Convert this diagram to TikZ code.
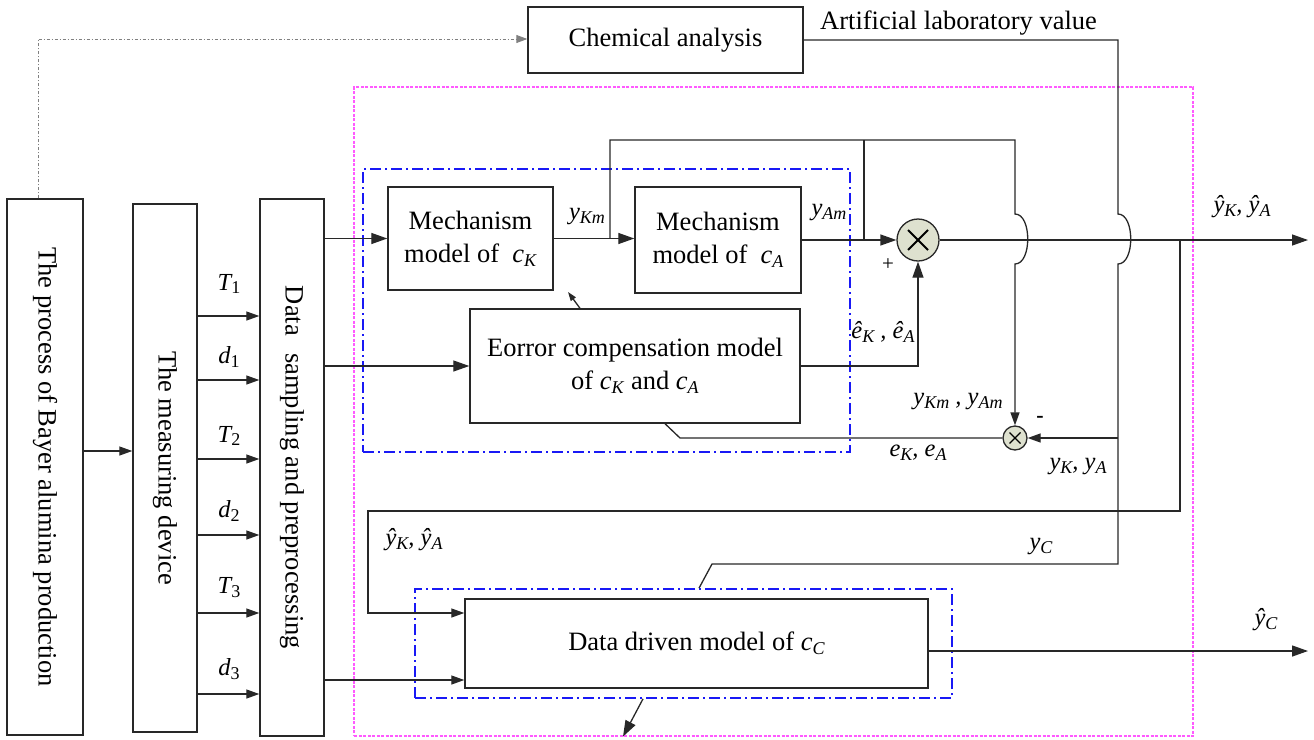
\documentclass[tikz,border=0pt]{standalone}
\usepackage{fontspec}
\setmainfont{Liberation Serif}
\usetikzlibrary{arrows.meta,calc}
\definecolor{pinkc}{RGB}{255,90,255}
\definecolor{bluec}{RGB}{25,25,245}
\definecolor{circf}{RGB}{222,225,207}
\definecolor{linec}{RGB}{40,40,40}
\newcommand{\sbs}[1]{\raisebox{-0.35ex}{\fontsize{18}{18}\selectfont #1}}
\newcommand{\bsz}{\fontsize{26.5}{33}\selectfont}
\newcommand{\lsz}{\fontsize{24.5}{27}\selectfont}
\begin{document}
\begin{tikzpicture}[x=1pt,y=-1pt,
  box/.style={draw=linec, line width=1.4pt, inner sep=0pt, align=center, font=\bsz},
  conn/.style={draw=linec, line width=1.3pt},
  arr/.style={conn, -{Triangle[length=13pt,width=9pt]}},
  barr/.style={conn, -{Triangle[length=16pt,width=11pt]}},
  lbl/.style={inner sep=0pt, font=\lsz\itshape},
  blued/.style={draw=bluec, line width=1.7pt, dash pattern=on 11pt off 4pt on 2pt off 4pt, inner sep=0pt},
  pinkd/.style={draw=pinkc, line width=1.2pt, dash pattern=on 3pt off 1.5pt, inner sep=0pt},
  gdash/.style={draw=gray, line width=0.9pt, dash pattern=on 3pt off 2pt on 1pt off 2pt},
  sumc/.style={circle, draw=linec, fill=circf, line width=1.3pt, inner sep=0pt}
]
\useasboundingbox (0,0) rectangle (1314,739);

% group frames
\node[pinkd, minimum width=839pt, minimum height=649pt] (pink) at (773.5,411.5) {};
\node[blued, minimum width=487pt, minimum height=283pt] (grpM) at (606.5,310.5) {};
\node[blued, minimum width=537pt, minimum height=109pt] (grpD) at (683.5,643.5) {};

% boxes
\node[box, minimum width=76pt, minimum height=536pt] (bayer) at (45,467) {\rotatebox{-90}{The process of Bayer alumina production}};
\node[box, minimum width=64pt, minimum height=528pt] (meas) at (165,468) {\rotatebox{-90}{The measuring device}};
\node[box, minimum width=64pt, minimum height=537pt] (dsp) at (292,467.5) {\rotatebox{-90}{Data\hspace{0.4em} sampling and preprocessing}};
\node[box, minimum width=275pt, minimum height=66pt] (chem) at (665.5,40) {Chemical analysis};
\node[box, minimum width=165pt, minimum height=103pt] (mechK) at (470.5,238.5) {Mechanism\\model of\hspace{0.5em}\textit{c}\sbs{\textit{K}}};
\node[box, minimum width=166pt, minimum height=106pt] (mechA) at (718,240) {Mechanism\\model of\hspace{0.5em}\textit{c}\sbs{\textit{A}}};
\node[box, minimum width=330pt, minimum height=114pt] (err) at (635,366) {Eorror compensation model\\of \textit{c}\sbs{\textit{K}} and \textit{c}\sbs{\textit{A}}};
\node[box, minimum width=463pt, minimum height=89pt] (dd) at (696.5,643.5) {Data driven model of \textit{c}\sbs{\textit{C}}};

% summing junctions
\node[sumc, minimum size=42pt] (sum1) at (918,240) {};
\draw[line width=2pt, black] ($(sum1)+(-10,-10)$) -- ($(sum1)+(10,10)$) ($(sum1)+(-10,10)$) -- ($(sum1)+(10,-10)$);
\node[sumc, minimum size=24pt] (sum2) at (1015,438) {};
\draw[line width=1.1pt, black] ($(sum2)+(-5.5,-5.5)$) -- ($(sum2)+(5.5,5.5)$) ($(sum2)+(-5.5,5.5)$) -- ($(sum2)+(5.5,-5.5)$);

% coordinates
\coordinate (dtop) at (38,39);
\coordinate (jK) at (610,238.5);
\coordinate (tl) at (610,140);
\coordinate (tr) at (1015,140);
\coordinate (jA) at (864,240);
\coordinate (outK) at (1308,240);
\coordinate (jO) at (1180,240);
\coordinate (fbr) at (1180,511);
\coordinate (fbl) at (368,511);
\coordinate (c1) at (1118,40);
\coordinate (jy) at (1118,440);
\coordinate (yc1) at (1118,564);
\coordinate (yc2) at (712,564);
\coordinate (outC) at (1308,651);

% dashed path to chemical analysis
\draw[gdash, -{Triangle[length=11pt,width=8pt]}] (bayer.north -| dtop) -- (dtop) -- (chem.west |- dtop);

% left chain
\draw[arr] (bayer.east |- 0,451) -- (meas.west |- 0,451);
\foreach \yy in {316,380,459,535,613,694}
  \draw[arr] (meas.east |- 0,\yy) -- (dsp.west |- 0,\yy);
\node[lbl] (lT1) at (229,284) {T\sbs{\upshape 1}};
\node[lbl] (ld1) at (229,357) {d\sbs{\upshape 1}};
\node[lbl] (lT2) at (229,436) {T\sbs{\upshape 2}};
\node[lbl] (ld2) at (229,511) {d\sbs{\upshape 2}};
\node[lbl] (lT3) at (229,588) {T\sbs{\upshape 3}};
\node[lbl] (ld3) at (229,669) {d\sbs{\upshape 3}};

% inputs from data sampling
\draw[barr] (dsp.east |- mechK.west) -- (mechK.west);
\draw[barr] (dsp.east |- err.west) -- (err.west);
\draw[arr] (dsp.east |- 0,680) -- (dd.west |- 0,680);

% mechanism chain
\draw[barr] (mechK.east |- jK) -- (mechA.west |- jK);
\draw[barr] (mechA.east) -- (sum1.west);
\draw[barr] (err.east) -| (sum1.south);
\draw[conn] (jA) -- (jA |- tl);
\draw[arr] (jK) -- (tl) -- (tr) -- (1015,214) .. controls (1032,214) and (1032,264) .. (1015,264) -- (sum2.north);
\draw[conn, -{Triangle[length=9pt,width=6pt]}] (err.north -| 580,0) -- (568,292);

% output and feedback
\draw[barr] (sum1.east) -- (outK);
\draw[arr] (jO) -- (fbr) -- (fbl) -- (fbl |- 0,613) -- (dd.west |- 0,613);
\draw[barr] (dd.east |- outC) -- (outC);
\draw[barr] (grpD.south -| 643,0) -- (pink.south -| 623,0);

% laboratory values
\draw[conn] (chem.east) -- (c1) -- (1118,214) .. controls (1135,214) and (1135,264) .. (1118,264) -- (yc1) -- (yc2) -- (grpD.north -| 699,0);
\draw[arr] (jy |- sum2.east) -- (sum2.east);
\draw[conn] (sum2.west) -- (680,438) -- (err.south -| 665,0);

% labels
\node[anchor=base west, inner sep=0pt, font=\bsz] (lab) at (820,29) {Artificial laboratory value};
\node[lbl] (lyKm) at (587,217) {y\sbs{Km}};
\node[lbl] (lyAm) at (829,213) {y\sbs{Am}};
\node[lbl] (lehat) at (883,332) {ê\sbs{K} , ê\sbs{A}};
\node[inner sep=0pt, font=\fontsize{21}{21}\selectfont] (lplus) at (888,265) {+};
\node[lbl] (lym) at (958,402) {y\sbs{Km} , y\sbs{Am}};
\node[inner sep=0pt, font=\fontsize{22}{22}\selectfont\bfseries] (lminus) at (1040,419) {-};
\node[lbl] (le) at (918,453) {e\sbs{K}, e\sbs{A}};
\node[lbl] (ly) at (1078,467) {y\sbs{K}, y\sbs{A}};
\node[lbl] (lyh1) at (1242,207) {ŷ\sbs{K}, ŷ\sbs{A}};
\node[lbl] (lyh2) at (414,540) {ŷ\sbs{K}, ŷ\sbs{A}};
\node[lbl] (lyC) at (1041,547) {y\sbs{C}};
\node[lbl] (lyhC) at (1266,620) {ŷ\sbs{C}};
\end{tikzpicture}
\end{document}
